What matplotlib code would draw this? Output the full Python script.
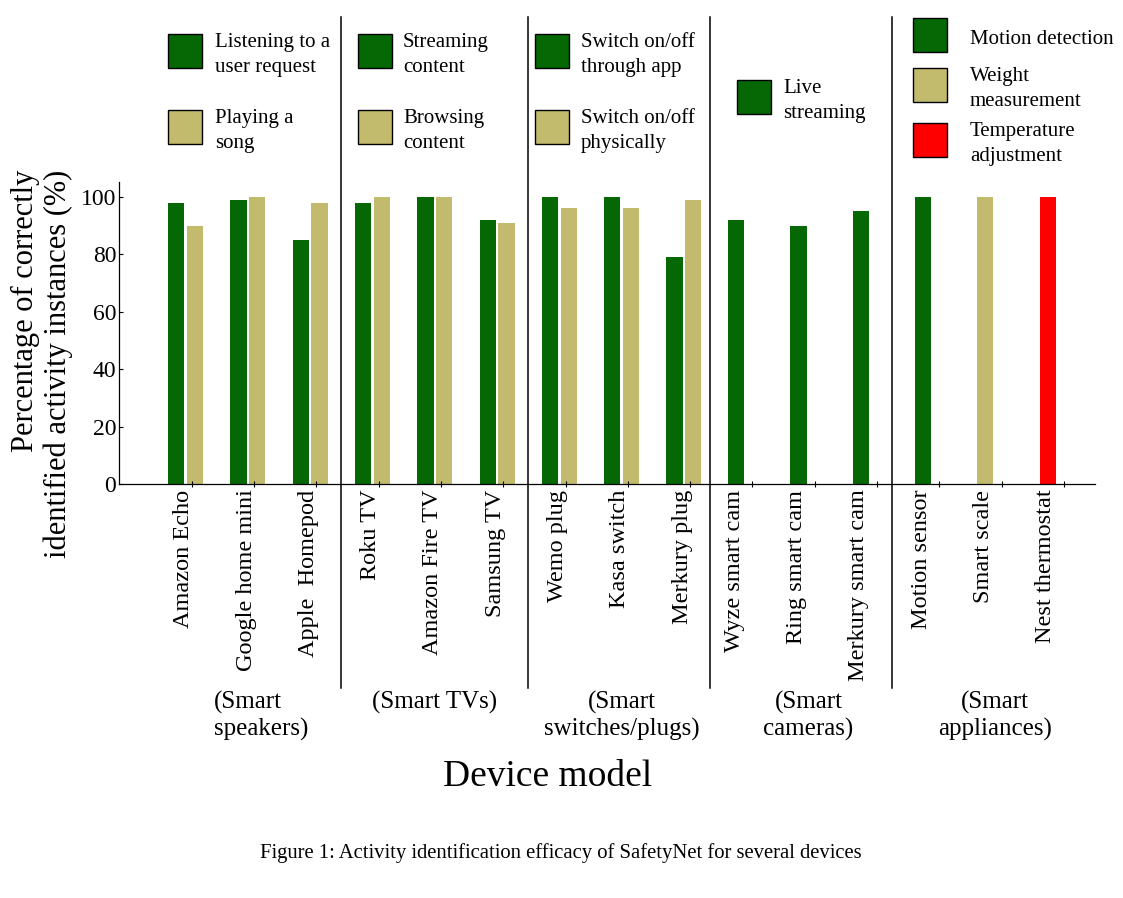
import numpy as np
import matplotlib.pyplot as plt
from matplotlib.patches import Rectangle
import matplotlib.transforms as mtransforms

plt.rcParams['font.family'] = ['Liberation Serif', 'DejaVu Serif']

W, H = 1123, 898

# Данные: устройства и процент правильно определённых действий
devices = ['Amazon Echo', 'Google home mini', 'Apple  Homepod',
           'Roku TV', 'Amazon Fire TV', 'Samsung TV',
           'Wemo plug', 'Kasa switch', 'Merkury plug',
           'Wyze smart cam', 'Ring smart cam', 'Merkury smart cam',
           'Motion sensor', 'Smart scale', 'Nest thermostat']
nan = np.nan
green_vals = [98, 99, 85, 98, 100, 92, 100, 100, 79, 92, 90, 95, 100, nan, nan]
khaki_vals = [90, 100, 98, 100, 100, 91, 96, 96, 99, nan, nan, nan, nan, 100, nan]
red_vals = [nan] * 14 + [100]

group_names = ['(Smart\nspeakers)', '(Smart TVs)', '(Smart\nswitches/plugs)',
               '(Smart\ncameras)', '(Smart\nappliances)']
group_sizes = [3, 3, 3, 3, 3]

legend_labels = [['Listening to a\nuser request', 'Playing a\nsong'],
                 ['Streaming\ncontent', 'Browsing\ncontent'],
                 ['Switch on/off\nthrough app', 'Switch on/off\nphysically'],
                 ['Live\nstreaming'],
                 ['Motion detection', 'Weight\nmeasurement', 'Temperature\nadjustment']]
GREEN, KHAKI, RED = '#056805', '#c2bb6e', '#ff0000'
legend_colors = [[GREEN, KHAKI], [GREEN, KHAKI], [GREEN, KHAKI], [GREEN],
                 [GREEN, KHAKI, RED]]


def fx(px):
    return px / W


def fy(py):
    return 1 - py / H


fig = plt.figure(figsize=(W / 100, H / 100), dpi=100)
ax = fig.add_axes([fx(119), fy(484), fx(1095) - fx(119), fy(182) - fy(484)])

x = np.arange(len(devices))
g = np.array(green_vals, dtype=float)
k = np.array(khaki_vals, dtype=float)
r = np.array(red_vals, dtype=float)
pair = ~np.isnan(g) & ~np.isnan(k)
gx = np.where(pair, x - 0.15, x - 0.16)
kx = np.where(pair, x + 0.15, x - 0.16)
rx = x - 0.16
bw = 0.26

ax.bar(gx, g, width=bw, color=GREEN)
ax.bar(kx, k, width=bw, color=KHAKI)
ax.bar(rx, r, width=bw, color=RED)

# позиции подписей - центр столбцов устройства
centers = []
for i in range(len(devices)):
    cs = [c[i] for c, v in ((gx, g), (kx, k), (rx, r)) if not np.isnan(v[i])]
    centers.append(np.mean(cs))
centers = np.array(centers)

ax.set_xlim(-1.07, 14.6)
ax.set_ylim(0, 105.2)
ax.set_xticks(centers - 0.03)
ax.set_xticklabels(devices, rotation=90, fontsize=17.5, va='top')
ax.tick_params(axis='x', which='major', length=0, pad=4)
ax.set_xticks(x + 0.1, minor=True)
ax.tick_params(axis='x', which='minor', length=5, direction='inout', width=0.8)
ax.set_yticks([0, 20, 40, 60, 80, 100])
ax.tick_params(axis='y', labelsize=17, length=3, direction='in', pad=2, width=0.8)
for sp in ['top', 'right']:
    ax.spines[sp].set_visible(False)
for sp in ['left', 'bottom']:
    ax.spines[sp].set_linewidth(0.9)

# разделители групп и подписи групп
trans = mtransforms.blended_transform_factory(ax.transData, ax.transAxes)
ax_h = 484 - 182
start = 0
for gi, (name, n) in enumerate(zip(group_names, group_sizes)):
    idx = np.arange(start, start + n)
    gc = x[idx].mean()
    if gi == 0:
        ax.text(gc - 0.55, (484 - 691) / ax_h, name, transform=trans, ha='left', va='top',
                fontsize=18, linespacing=1.23, multialignment='left')
    else:
        ax.text(gc, (484 - 691) / ax_h, name, transform=trans, ha='center', va='top',
                fontsize=18, linespacing=1.23, multialignment='center')
    if start + n < len(devices):
        sx = (centers[start + n - 1] + centers[start + n]) / 2
        ax.plot([sx, sx], [(484 - 688) / ax_h, (484 - 17) / ax_h], transform=trans,
                color='black', lw=1.1, clip_on=False)
    start += n

# легенды групп
box_x = [168, 358, 535, 737, 913]
text_x = [215, 403, 581, 783, 970]
row_y = [[51, 127], [51, 127], [51, 127], [97], [35, 85, 140]]
bs = 34
for gi in range(len(legend_labels)):
    for lab, col, yc in zip(legend_labels[gi], legend_colors[gi], row_y[gi]):
        fig.add_artist(Rectangle((fx(box_x[gi]), fy(yc + bs / 2)), bs / W, bs / H,
                                 transform=fig.transFigure, facecolor=col,
                                 edgecolor='black', lw=1.0))
        fig.text(fx(text_x[gi]), fy(yc + 4), lab, ha='left', va='center',
                 fontsize=15, linespacing=1.42)

fig.text(fx(42), fy(364), 'Percentage of correctly\nidentified activity instances (%)',
         rotation=90, ha='center', va='center', multialignment='right',
         fontsize=22, linespacing=1.18)
fig.text(fx(548), fy(777), 'Device model', ha='center', va='center', fontsize=27)
fig.text(fx(561), fy(853),
         'Figure 1: Activity identification efficacy of SafetyNet for several devices',
         ha='center', va='center', fontsize=14.9)

fig.savefig('out.png', dpi=100)
